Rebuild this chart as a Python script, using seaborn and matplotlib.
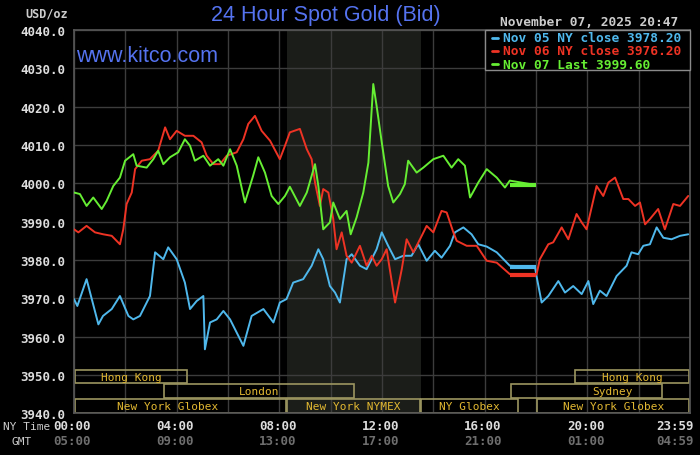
import numpy as np
import pandas as pd
import seaborn as sns
import matplotlib.pyplot as plt
from matplotlib.patches import Rectangle
from matplotlib.lines import Line2D

# ---- data (hours in NY time, USD/oz) ----
nov05_hours = [0, 0.13, 0.49, 0.95, 1.13, 1.47, 1.79, 2.12, 2.31, 2.57, 2.96, 3.16, 3.48, 3.67,
               4.0, 4.32, 4.52, 4.78, 5.04, 5.10, 5.30, 5.56, 5.82, 6.08, 6.6, 6.92, 7.38, 7.77,
               8.02, 8.28, 8.54, 8.93, 9.26, 9.52, 9.71, 9.97, 10.17, 10.36, 10.62, 10.82, 11.14,
               11.40, 11.79, 11.99, 12.24, 12.51, 12.83, 13.15, 13.41, 13.74, 14.06, 14.32, 14.65,
               14.84, 15.17, 15.49, 15.75, 16.08, 16.47, 16.98, 17.96, 18.02, 18.22, 18.48, 18.87,
               19.13, 19.45, 19.78, 20.04, 20.23, 20.49, 20.75, 21.14, 21.53, 21.72, 21.98, 22.18,
               22.44, 22.70, 22.96, 23.28, 23.61, 23.93]
nov05_price = [3969.8, 3968.0, 3975.0, 3963.2, 3965.4, 3967.2, 3970.6, 3965.4, 3964.5, 3965.4,
               3970.6, 3982.0, 3980.2, 3983.3, 3980.2, 3974.1, 3967.2, 3969.3, 3970.6, 3956.7,
               3963.7, 3964.5, 3966.7, 3964.5, 3957.6, 3965.4, 3967.2, 3963.7, 3968.9, 3969.8,
               3974.1, 3975.0, 3978.5, 3982.8, 3980.2, 3973.2, 3971.5, 3968.9, 3980.2, 3981.5,
               3978.5, 3977.6, 3982.8, 3987.2, 3983.7, 3980.2, 3981.1, 3981.1, 3984.1, 3979.8,
               3982.4, 3980.6, 3983.7, 3987.2, 3988.5, 3986.7, 3984.1, 3983.5, 3982.0, 3978.5,
               3978.2, 3975.8, 3968.9, 3970.6, 3974.5, 3971.5, 3973.2, 3971.1, 3974.5, 3968.5,
               3972.0, 3970.6, 3975.8, 3978.5, 3982.0, 3981.5, 3983.7, 3984.1, 3988.5, 3985.8,
               3985.4, 3986.3, 3986.7]

nov06_hours = [0, 0.17, 0.49, 0.82, 1.14, 1.47, 1.79, 1.92, 2.05, 2.25, 2.38, 2.64, 2.96, 3.28,
               3.55, 3.74, 4.0, 4.32, 4.65, 4.97, 5.17, 5.43, 5.69, 5.95, 6.34, 6.60, 6.79, 7.05,
               7.31, 7.64, 8.02, 8.22, 8.41, 8.80, 9.07, 9.26, 9.39, 9.58, 9.71, 9.91, 10.10,
               10.23, 10.43, 10.62, 10.82, 11.14, 11.40, 11.60, 11.79, 11.99, 12.18, 12.51, 12.77,
               12.96, 13.22, 13.48, 13.74, 14.0, 14.32, 14.52, 14.78, 14.91, 15.30, 15.69, 16.08,
               16.47, 16.98, 17.96, 18.02, 18.15, 18.48, 18.67, 19.0, 19.26, 19.58, 19.78, 19.97,
               20.36, 20.62, 20.82, 21.08, 21.40, 21.60, 21.86, 22.05, 22.25, 22.44, 22.76, 23.02,
               23.35, 23.61, 23.93]
nov06_price = [3988.0, 3987.2, 3988.9, 3987.2, 3986.7, 3986.3, 3984.1, 3988.0, 3994.6, 3997.6,
               4003.7, 4005.9, 4006.3, 4008.5, 4014.6, 4011.5, 4013.7, 4012.4, 4012.4, 4010.7,
               4007.2, 4005.0, 4005.0, 4007.2, 4008.1, 4011.5, 4015.5, 4017.6, 4013.7, 4011.1,
               4006.3, 4009.8, 4013.3, 4014.2, 4008.9, 4006.3, 4000.2, 3994.1, 3998.5, 3997.6,
               3990.7, 3982.8, 3987.2, 3981.1, 3979.3, 3983.7, 3978.5, 3981.1, 3978.5, 3980.2,
               3982.8, 3968.9, 3977.6, 3985.4, 3982.0, 3985.4, 3988.9, 3987.2, 3992.8, 3992.4,
               3987.2, 3985.0, 3983.7, 3983.7, 3979.8, 3979.3, 3976.3, 3976.2, 3976.2, 3980.2,
               3984.1, 3984.6, 3988.5, 3985.4, 3992.0, 3989.8, 3988.0, 3999.3, 3996.7, 4000.2,
               4001.5, 3995.9, 3995.9, 3994.1, 3995.0, 3989.3, 3990.7, 3993.3, 3988.0, 3994.6,
               3994.1, 3996.7]

nov07_hours = [0, 0.23, 0.49, 0.75, 1.08, 1.27, 1.53, 1.79, 1.99, 2.31, 2.44, 2.83, 3.09, 3.28,
               3.48, 3.74, 4.06, 4.32, 4.52, 4.71, 5.04, 5.30, 5.62, 5.82, 6.08, 6.34, 6.66, 6.98,
               7.18, 7.44, 7.70, 7.96, 8.22, 8.41, 8.80, 9.07, 9.39, 9.52, 9.71, 9.97, 10.10,
               10.36, 10.62, 10.78, 11.01, 11.27, 11.47, 11.66, 11.79, 11.99, 12.24, 12.44, 12.70,
               12.89, 13.02, 13.35, 13.61, 14.0, 14.39, 14.71, 14.97, 15.23, 15.43, 15.75, 16.08,
               16.47, 16.79, 16.98, 17.96]
nov07_price = [3997.6, 3997.2, 3994.1, 3996.3, 3993.3, 3995.4, 3999.3, 4001.5, 4005.9, 4007.6,
               4004.6, 4004.1, 4006.3, 4008.5, 4005.0, 4006.8, 4008.1, 4011.5, 4009.8, 4005.9,
               4007.2, 4004.6, 4006.3, 4004.6, 4008.9, 4004.6, 3995.0, 4002.0, 4006.8, 4002.8,
               3996.7, 3994.6, 3996.7, 3999.1, 3994.1, 3997.6, 4005.0, 3999.3, 3988.0, 3989.8,
               3995.0, 3990.7, 3992.8, 3986.7, 3991.1, 3997.6, 4005.4, 4025.9, 4020.2, 4010.7,
               3999.3, 3995.0, 3997.2, 3999.8, 4005.9, 4002.8, 4004.1, 4006.3, 4007.2, 4004.1,
               4006.3, 4004.6, 3996.3, 4000.2, 4003.7, 4001.5, 3998.9, 4000.7, 3999.6]

series_labels = ["Nov 05 NY close 3978.20", "Nov 06 NY close 3976.20", "Nov 07 Last 3999.60"]
close_levels = [3978.2, 3976.2, 3999.6]
close_start, close_end = 17.0, 18.0

# trading sessions: name, start hour, end hour, row (0 = bottom)
session_names = ["Hong Kong", "London", "New York Globex", "New York NYMEX", "NY Globex",
                 "Sydney", "Hong Kong", "New York Globex"]
session_start = [0.0, 3.47, 0.0, 8.28, 13.5, 17.0, 19.5, 18.02]
session_end = [4.45, 10.95, 8.28, 13.5, 17.33, 22.95, 24.0, 24.0]
session_row = [2, 1, 0, 0, 0, 1, 2, 0]

nymex_span = (8.28, 13.5)

ny_ticks = ["00:00", "04:00", "08:00", "12:00", "16:00", "20:00", "23:59"]
gmt_ticks = ["05:00", "09:00", "13:00", "17:00", "21:00", "01:00", "04:59"]
tick_hours = [0, 4, 8, 12, 16, 20, 24]

colors = ["#4fb8ec", "#ee3324", "#66ee33"]
mono = "DejaVu Sans Mono"
W, H = 700, 456

sns.set_theme(style="dark", rc={
    "figure.facecolor": "black",
    "axes.facecolor": "black",
    "axes.edgecolor": "#555555",
    "grid.color": "#3c3c3c",
})

fig = plt.figure(figsize=(7, 4.56), dpi=100)
ax = fig.add_axes([74 / W, 1 - 414.3 / H, 616 / W, 383.3 / H])

ax.axvspan(*nymex_span, color="#1b1d19", zorder=0, lw=0)

all_series = [(nov05_hours, nov05_price), (nov06_hours, nov06_price), (nov07_hours, nov07_price)]
for (hrs, px), col, lvl in zip(all_series, colors, close_levels):
    df = pd.DataFrame({"hour": hrs, "price": px})
    sns.lineplot(data=df, x="hour", y="price", color=col, lw=1.4, ax=ax, zorder=3)
    ax.plot([close_start, close_end], [lvl, lvl], color=col, lw=3, zorder=3,
            solid_capstyle="butt")

# session boxes
row_bounds = [(3940.1, 3943.8), (3944.0, 3947.6), (3947.8, 3951.2)]
label_shift = {2: -0.5, 5: 1.0}
for i, (name, s, e, r) in enumerate(zip(session_names, session_start, session_end, session_row)):
    y0, y1 = row_bounds[r]
    ax.add_patch(Rectangle((s + 0.03, y0), e - s - 0.06, y1 - y0, fill=False,
                           edgecolor="#9c9660", lw=1.2, zorder=2))
    ax.text((s + e) / 2 + label_shift.get(i, 0), (y0 + y1) / 2, name, color="#e2b832",
            ha="center", va="center", fontsize=8, family=mono, zorder=4)

ax.set_xlim(0, 24)
ax.set_ylim(3940, 4040)
ax.set_xticks(np.arange(0, 25, 2))
ax.set_xticklabels([])
ax.set_yticks(np.arange(3940, 4041, 10))
ax.set_yticklabels([f"{v:.1f}" for v in np.arange(3940, 4041, 10)], family=mono,
                   fontweight="bold", fontsize=9, color="#dddddd")
ax.tick_params(axis="both", length=0, pad=6)
ax.grid(True, lw=1)
ax.set_xlabel("")
ax.set_ylabel("")
for sp in ax.spines.values():
    sp.set_color("#555555")
if ax.get_legend() is not None:
    ax.get_legend().remove()

# legend box drawn by hand (top right, over the grid)
fig.patches.append(Rectangle((485 / W, 1 - 71 / H), 205 / W, 40 / H, transform=fig.transFigure,
                             facecolor="black", edgecolor="#8a8a8a", lw=1, zorder=5))
for k, (lab, col) in enumerate(zip(series_labels, colors)):
    yy = 1 - (38.5 + 13.3 * k) / H
    fig.lines.append(Line2D([492 / W, 498 / W], [yy, yy], transform=fig.transFigure,
                            color=col, lw=2, zorder=6))
    fig.text(503 / W, yy, lab, family=mono, fontweight="bold", fontsize=9.3, color=col,
             va="center", ha="left", zorder=6)

# x labels: NY time and GMT rows
trans = ax.get_xaxis_transform()
for h, ny, gmt in zip(tick_hours, ny_ticks, gmt_ticks):
    xpos = min(h, 23.5) - 0.07
    ax.text(xpos, -12.3 / 383.3, ny, transform=trans, ha="center", va="center",
            family=mono, fontweight="bold", fontsize=9, color="#dddddd", clip_on=False)
    ax.text(xpos, -27.7 / 383.3, gmt, transform=trans, ha="center", va="center",
            family=mono, fontweight="bold", fontsize=9, color="#6e6e6e", clip_on=False)

fig.text(3 / W, 1 - 427 / H, "NY Time", family=mono, fontsize=8, color="#cccccc",
         va="center", ha="left")
fig.text(12 / W, 1 - 442 / H, "GMT", family=mono, fontsize=8, color="#cccccc",
         va="center", ha="left")
fig.text(68 / W, 1 - 14 / H, "USD/oz", family=mono, fontweight="bold", fontsize=8.5,
         color="#cccccc", va="center", ha="right")
fig.text(326 / W, 1 - 16 / H, "24 Hour Spot Gold (Bid)", family="Liberation Sans",
         fontsize=15.5, color="#5573f0", va="center", ha="center")
fig.text(76 / W, 1 - 61.7 / H, "www.kitco.com", family="Liberation Sans",
         fontsize=15.5, color="#5573f0", va="baseline", ha="left")
fig.text(678 / W, 1 - 22 / H, "November 07, 2025 20:47", family=mono, fontweight="bold",
         fontsize=9.3, color="#cccccc", va="center", ha="right")

fig.savefig("out.png", dpi=100, facecolor="black")
